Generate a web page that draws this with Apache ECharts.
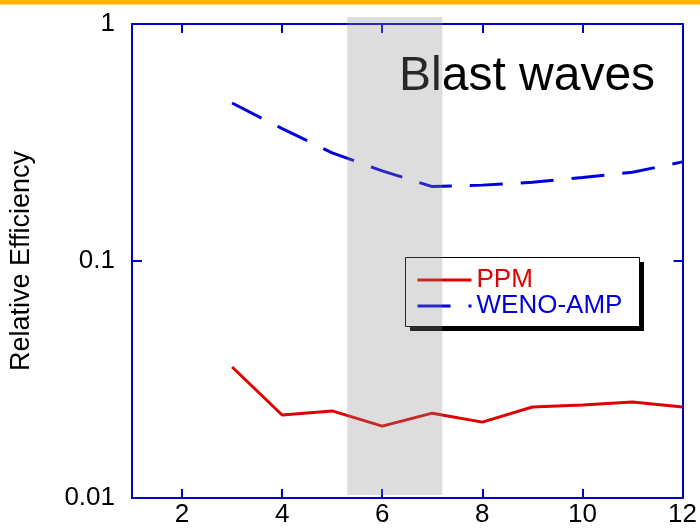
<!DOCTYPE html>
<html>
<head>
<meta charset="utf-8">
<script src="https://cdn.jsdelivr.net/npm/echarts@6/dist/echarts.min.js"></script>
<style>
  html, body { margin: 0; padding: 0; background: #fff; }
  #chart { width: 700px; height: 529px; }
</style>
</head>
<body>
<div id="chart"></div>
<script>
// Relative efficiency of two schemes on the blast-wave problem
const xValues = [3, 4, 5, 6, 7, 8, 9, 10, 11, 12];
const ppm = [0.0357, 0.0224, 0.0233, 0.0201, 0.0228, 0.0209, 0.0242, 0.0247, 0.0254, 0.0242];
const wenoAmp = [0.464, 0.362, 0.286, 0.240, 0.206, 0.209, 0.215, 0.225, 0.237, 0.262];
const xTicks = [2, 4, 6, 8, 10, 12];
const yTickLabels = ['0.01', '0.1', '1'];
// highlighted band: [x0, x1] and [yBottom, yTop]
const bandX = [5.3, 7.2];
const bandY = [0.0103, 1.07];

const FONT = "'Liberation Sans', Arial, sans-serif";
const AXIS_BLUE = '#0000cc';

// legend frame (pixels)
const LEG = { x: 405, y: 257, w: 234, h: 69, shadow: 5 };

const chart = echarts.init(document.getElementById('chart'), null, { renderer: 'canvas' });

const pairs = (xs, ys) => xs.map((x, i) => [x, ys[i]]);

const frameAxisLine = { show: true, lineStyle: { color: AXIS_BLUE, width: 2 } };
const frameTick = { show: true, inside: true, length: 9, lineStyle: { color: AXIS_BLUE, width: 2 } };

chart.setOption({
  animation: false,
  backgroundColor: '#fff',
  textStyle: { fontFamily: FONT },
  graphic: [
    { type: 'rect', left: 0, top: 0, shape: { width: 700, height: 4.5 }, style: { fill: '#ffb400' }, z: 100 },
    // drop shadow and white box behind the legend
    {
      type: 'rect', z: 5,
      shape: { x: LEG.x + LEG.shadow, y: LEG.y + LEG.shadow, width: LEG.w, height: LEG.h },
      style: { fill: '#000' }
    },
    {
      type: 'rect', z: 6,
      shape: { x: LEG.x + 0.5, y: LEG.y + 0.5, width: LEG.w, height: LEG.h },
      style: { fill: '#fff', stroke: '#000', lineWidth: 1 }
    }
  ],
  title: {
    text: 'Blast waves',
    left: 399,
    top: 53,
    padding: 0,
    textStyle: { fontFamily: FONT, fontSize: 48, fontWeight: 'normal', color: '#000' }
  },
  grid: { left: 132, right: 16, top: 24, bottom: 31, containLabel: false },
  legend: {
    orient: 'vertical',
    left: 405,
    top: 257,
    padding: [10, 14, 8, 11],
    itemGap: 0,
    itemWidth: 54,
    itemHeight: 14,
    z: 10,
    itemStyle: { opacity: 0 },
    lineStyle: { width: 3 },
    textStyle: { fontFamily: FONT, fontSize: 26, lineHeight: 25 },
    data: [
      { name: 'PPM', textStyle: { color: '#e00000' } },
      { name: 'WENO-AMP', textStyle: { color: '#0000dd' } }
    ]
  },
  xAxis: [
    {
      type: 'value', min: 1, max: 12, position: 'bottom',
      axisLine: frameAxisLine,
      axisTick: Object.assign({ customValues: xTicks }, frameTick),
      splitLine: { show: false },
      axisLabel: { customValues: xTicks, color: '#000', fontSize: 26, margin: 4, fontFamily: FONT }
    },
    {
      type: 'value', min: 1, max: 12, position: 'top',
      axisLine: frameAxisLine,
      axisTick: Object.assign({ customValues: xTicks }, frameTick),
      splitLine: { show: false },
      axisLabel: { show: false }
    }
  ],
  yAxis: [
    {
      type: 'log', logBase: 10, min: 0.01, max: 1, position: 'left',
      name: 'Relative Efficiency', nameLocation: 'middle', nameGap: 97, nameRotate: 90,
      nameTextStyle: { fontSize: 27, color: '#000', fontFamily: FONT },
      axisLine: frameAxisLine,
      axisTick: Object.assign({}, frameTick, { length: 10 }),
      minorTick: { show: false },
      splitLine: { show: false },
      axisLabel: {
        color: '#000', fontSize: 26, margin: 17, fontFamily: FONT, padding: [0, 0, 5, 0],
        formatter: v => yTickLabels[Math.round(Math.log10(v)) + 2]
      }
    },
    {
      type: 'log', logBase: 10, min: 0.01, max: 1, position: 'right',
      axisLine: frameAxisLine,
      axisTick: frameTick,
      splitLine: { show: false },
      axisLabel: { show: false }
    }
  ],
  series: [
    {
      name: 'PPM', type: 'line', xAxisIndex: 0, yAxisIndex: 0,
      data: pairs(xValues, ppm),
      showSymbol: false, symbol: 'none',
      lineStyle: { color: '#e00000', width: 3 },
      itemStyle: { color: '#e00000' },
      z: 3
    },
    {
      name: 'WENO-AMP', type: 'line', xAxisIndex: 0, yAxisIndex: 0,
      data: pairs(xValues, wenoAmp),
      showSymbol: false, symbol: 'none',
      lineStyle: { color: '#0000dd', width: 3, type: [33, 18] },
      itemStyle: { color: '#0000dd' },
      z: 3
    },
    {
      // translucent grey band laid over the plot
      name: 'band', type: 'custom', xAxisIndex: 0, yAxisIndex: 0,
      clip: false, silent: true, z: 50,
      data: [[bandX[0], bandY[0], bandX[1], bandY[1]]],
      encode: { x: [0, 2], y: [1, 3] },
      renderItem: (params, api) => {
        const p0 = api.coord([api.value(0), api.value(3)]);
        const p1 = api.coord([api.value(2), api.value(1)]);
        return {
          type: 'rect',
          shape: { x: p0[0], y: p0[1], width: p1[0] - p0[0], height: p1[1] - p0[1] },
          style: { fill: 'rgba(138,138,138,0.29)' }
        };
      }
    }
  ]
});
</script>
</body>
</html>
